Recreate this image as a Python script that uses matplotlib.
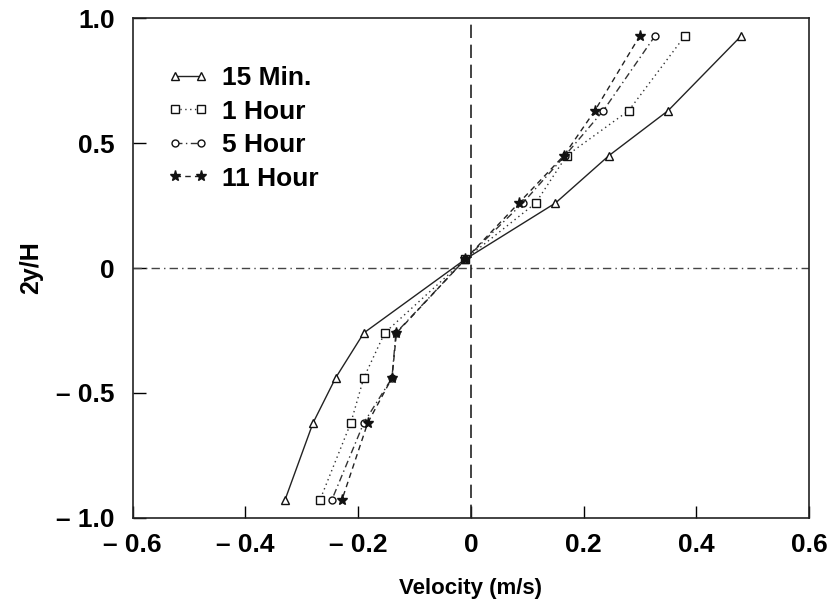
import matplotlib
matplotlib.use("Agg")
from matplotlib import pyplot as plt

plt.rcParams['font.family'] = ['Liberation Sans', 'DejaVu Sans']

# 数据：纵坐标 2y/H，各时刻的速度 (m/s)
y_pos = [0.93, 0.63, 0.45, 0.26, 0.035, -0.26, -0.44, -0.62, -0.93]
v_15min = [0.48, 0.35, 0.245, 0.15, -0.01, -0.19, -0.24, -0.28, -0.33]
v_1hour = [0.38, 0.28, 0.17, 0.115, -0.01, -0.153, -0.19, -0.213, -0.268]
v_5hour = [0.327, 0.235, 0.167, 0.092, -0.01, -0.133, -0.14, -0.19, -0.247]
v_11hour = [0.30, 0.22, 0.165, 0.085, -0.01, -0.132, -0.14, -0.183, -0.229]

labels = ["15 Min.", "1 Hour", "5 Hour", "11 Hour"]
xticks = [-0.6, -0.4, -0.2, 0, 0.2, 0.4, 0.6]
xticklabels = ["\u2013 0.6", "\u2013 0.4", "\u2013 0.2", "0", "0.2", "0.4", "0.6"]
yticks = [-1.0, -0.5, 0, 0.5, 1.0]
yticklabels = ["\u2013 1.0", "\u2013 0.5", "0", "0.5", "1.0"]

fig = plt.figure(figsize=(8.29, 6.05), dpi=100)
ax = fig.add_axes([0.160, 0.144, 0.816, 0.826])

# 零线
ax.axhline(0, color='#444444', lw=1.0, ls=(0, (6, 3, 1, 3)))
ax.axvline(0, color='#222222', lw=1.2, ls=(0, (8, 4)))

ax.plot(v_15min, y_pos, color='#222222', lw=1.0, ls='-', marker='^', ms=6,
        mfc='white', mec='#111111', label=labels[0])
ax.plot(v_1hour, y_pos, color='#333333', lw=1.0, ls=(0, (1, 2.5)), marker='s', ms=6,
        mfc='white', mec='#111111', label=labels[1])
ax.plot(v_5hour, y_pos, color='#333333', lw=1.0, ls=(0, (5, 2.5, 1, 2.5)), marker='o', ms=5,
        mfc='white', mec='#111111', label=labels[2])
ax.plot(v_11hour, y_pos, color='#222222', lw=1.0, ls=(0, (4, 3)), marker='*', ms=8,
        mfc='#111111', mec='#111111', label=labels[3])

ax.set_xlim(-0.6, 0.6)
ax.set_ylim(-1.0, 1.0)
ax.set_xticks(xticks)
ax.set_xticklabels(xticklabels)
ax.set_yticks(yticks)
ax.set_yticklabels(yticklabels)
ax.tick_params(direction='in', length=9, width=1, labelsize=19)
ax.tick_params(axis='x', pad=11)
ax.tick_params(axis='y', pad=13)
for t in ax.get_xticklabels() + ax.get_yticklabels():
    t.set_fontweight('bold')

for s in ax.spines.values():
    s.set_linewidth(1.2)
    s.set_color('#222222')

ax.set_xlabel("Velocity (m/s)", fontsize=16, fontweight='bold', labelpad=15)
ax.set_ylabel("2y/H", fontsize=18, fontweight='bold', labelpad=9)

leg = ax.legend(loc='upper left', bbox_to_anchor=(0.035, 0.925), frameon=False,
                fontsize=19, numpoints=2, handlelength=1.6, handletextpad=0.5,
                labelspacing=0.36, borderaxespad=0)
for t in leg.get_texts():
    t.set_fontweight('bold')

plt.savefig("out.png", dpi=100)
